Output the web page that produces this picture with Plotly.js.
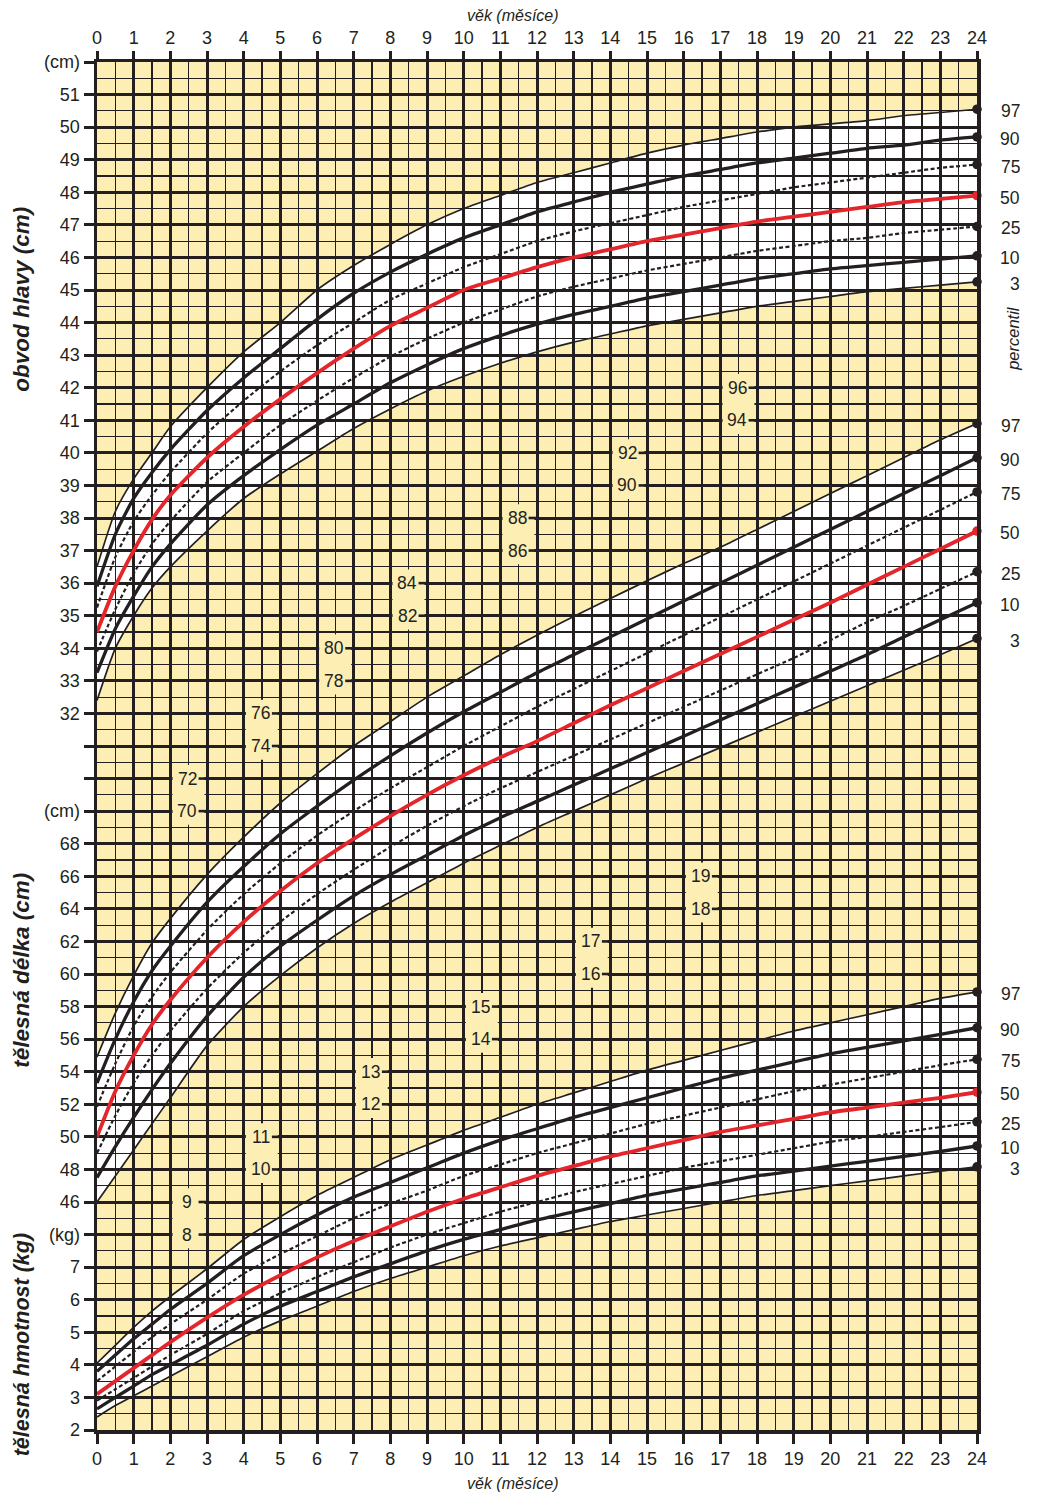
<!DOCTYPE html>
<html><head><meta charset="utf-8">
<script src="https://cdn.plot.ly/plotly-3.0.1.min.js"></script>
<style>html,body{margin:0;padding:0;background:#fff}</style>
</head><body><div id="chart" style="width:1045px;height:1497px"></div>
<script>
// ---------------- DATA ----------------
const months = [0,0.5,1,1.5,2,3,4,5,6,7,8,9,10,11,12,13,14,15,16,17,18,19,20,21,22,23,24];
const percentileNames = ['97','90','75','50','25','10','3'];

// head circumference (cm)
const headP97 = [36.5,38.2,39.2,40.0,40.8,42.0,43.1,44.0,45.0,45.75,46.4,47.0,47.5,47.9,48.3,48.6,48.9,49.2,49.45,49.65,49.85,50.0,50.1,50.2,50.35,50.45,50.55];
const headP90 = [35.9,37.5,38.6,39.4,40.1,41.3,42.3,43.2,44.1,44.9,45.55,46.1,46.6,47.0,47.4,47.7,48.0,48.25,48.5,48.7,48.9,49.05,49.2,49.35,49.45,49.6,49.7];
const headP75 = [35.25,36.8,37.9,38.7,39.4,40.6,41.6,42.5,43.3,44.0,44.7,45.2,45.7,46.1,46.5,46.8,47.05,47.3,47.55,47.75,47.95,48.15,48.3,48.45,48.6,48.75,48.85];
const headP50 = [34.5,35.9,37.0,37.95,38.7,39.85,40.8,41.65,42.45,43.2,43.9,44.45,45.0,45.35,45.7,46.0,46.25,46.5,46.7,46.9,47.1,47.25,47.4,47.55,47.7,47.8,47.9];
const headP25 = [33.9,35.2,36.3,37.2,37.9,39.1,40.0,40.85,41.6,42.3,42.95,43.5,44.0,44.4,44.8,45.1,45.35,45.6,45.8,46.0,46.2,46.35,46.5,46.6,46.75,46.85,46.95];
const headP10 = [33.25,34.6,35.6,36.5,37.2,38.4,39.3,40.1,40.85,41.5,42.15,42.7,43.2,43.6,43.95,44.25,44.5,44.75,44.95,45.15,45.35,45.5,45.65,45.75,45.85,45.95,46.05];
const headP3  = [32.4,34.0,35.0,35.85,36.5,37.6,38.6,39.35,40.05,40.75,41.35,41.9,42.35,42.75,43.1,43.4,43.65,43.9,44.1,44.3,44.5,44.65,44.8,44.95,45.05,45.15,45.25];

// body length (cm)
const lengthP97 = [54.9,57.6,59.9,61.9,63.4,66.1,68.4,70.5,72.3,74.0,75.5,77.0,78.3,79.6,80.8,81.95,83.05,84.15,85.2,86.2,87.3,88.4,89.5,90.6,91.7,92.8,93.8];
const lengthP90 = [53.3,56.0,58.3,60.2,61.7,64.4,66.6,68.6,70.3,71.9,73.4,74.8,76.1,77.3,78.5,79.6,80.7,81.8,82.9,84.0,85.1,86.2,87.3,88.4,89.5,90.6,91.7];
const lengthP75 = [51.85,54.5,56.8,58.6,60.1,62.7,64.9,66.8,68.5,70.0,71.4,72.7,74.0,75.2,76.4,77.5,78.6,79.7,80.8,81.9,83.0,84.1,85.2,86.3,87.4,88.5,89.6];
const lengthP50 = [50.0,52.8,55.0,56.9,58.4,61.0,63.2,65.1,66.8,68.3,69.7,71.0,72.2,73.3,74.3,75.4,76.5,77.55,78.6,79.65,80.7,81.75,82.8,83.9,85.0,86.1,87.2];
const lengthP25 = [49.0,51.3,53.3,55.0,56.5,59.1,61.3,63.2,64.9,66.4,67.8,69.1,70.3,71.4,72.4,73.4,74.4,75.4,76.4,77.4,78.4,79.4,80.5,81.6,82.6,83.65,84.7];
const lengthP10 = [47.5,49.4,51.2,52.9,54.5,57.4,59.8,61.7,63.3,64.8,66.1,67.3,68.5,69.6,70.6,71.6,72.6,73.6,74.6,75.6,76.6,77.6,78.6,79.6,80.7,81.75,82.8];
const lengthP3  = [46.0,47.6,49.2,50.8,52.4,55.6,58.0,59.9,61.6,63.1,64.4,65.6,66.8,67.9,69.0,70.0,71.0,72.0,72.95,73.9,74.85,75.8,76.75,77.7,78.65,79.6,80.6];

// body weight (kg)
const weightP97 = [4.05,4.6,5.15,5.65,6.1,6.95,7.85,8.55,9.2,9.75,10.3,10.75,11.2,11.6,12.0,12.35,12.7,13.05,13.35,13.65,13.95,14.25,14.5,14.75,15.0,15.25,15.45];
const weightP90 = [3.8,4.3,4.8,5.25,5.7,6.5,7.35,8.0,8.6,9.15,9.6,10.05,10.5,10.9,11.25,11.6,11.9,12.2,12.5,12.8,13.05,13.3,13.55,13.75,13.95,14.15,14.35];
const weightP75 = [3.5,3.95,4.4,4.85,5.25,6.0,6.8,7.4,7.95,8.5,8.95,9.35,9.8,10.15,10.5,10.8,11.1,11.4,11.65,11.9,12.15,12.4,12.6,12.8,13.0,13.2,13.38];
const weightP50 = [3.1,3.5,3.9,4.3,4.7,5.45,6.15,6.75,7.3,7.8,8.25,8.7,9.1,9.45,9.8,10.1,10.4,10.65,10.9,11.15,11.35,11.55,11.75,11.9,12.05,12.2,12.37];
const weightP25 = [2.9,3.25,3.6,3.95,4.3,4.95,5.65,6.2,6.7,7.15,7.6,8.0,8.35,8.7,9.0,9.3,9.55,9.8,10.05,10.25,10.45,10.65,10.85,11.0,11.15,11.3,11.46];
const weightP10 = [2.65,3.0,3.35,3.7,4.0,4.6,5.25,5.8,6.25,6.7,7.1,7.5,7.85,8.15,8.45,8.7,8.95,9.2,9.4,9.6,9.8,9.95,10.1,10.25,10.4,10.55,10.72];
const weightP3  = [2.4,2.75,3.05,3.35,3.65,4.25,4.85,5.35,5.8,6.25,6.65,7.0,7.35,7.65,7.9,8.15,8.4,8.6,8.8,9.0,9.2,9.35,9.5,9.65,9.8,9.95,10.08];

// tick labels
const monthLabels = ['0','1','2','3','4','5','6','7','8','9','10','11','12','13','14','15','16','17','18','19','20','21','22','23','24'];
const headTickLabels = ['51','50','49','48','47','46','45','44','43','42','41','40','39','38','37','36','35','34','33','32'];
const lengthTickLabels = ['68','66','64','62','60','58','56','54','52','50','48','46'];
const weightTickLabels = ['7','6','5','4','3','2'];
const lengthInnerLabels = ['96','94','92','90','88','86','84','82','80','78','76','74','72','70'];
const weightInnerLabels = ['19','18','17','16','15','14','13','12','11','10','9','8'];

// ---------------- CHART ----------------
const DARK = '#231f20', YELLOW = '#fdeeb4', RED = '#e3262b';
const FONT = 'Liberation Sans, Arial, Helvetica, sans-serif';

// conversion of each measure to the common chart row scale
const headRow = v => v - 8;
const lengthRow = v => v / 2 - 14;
const weightRow = v => v;

const groups = [
  {conv: headRow,   s: [headP97, headP90, headP75, headP50, headP25, headP10, headP3]},
  {conv: lengthRow, s: [lengthP97, lengthP90, lengthP75, lengthP50, lengthP25, lengthP10, lengthP3]},
  {conv: weightRow, s: [weightP97, weightP90, weightP75, weightP50, weightP25, weightP10, weightP3]}
];

const styleFor = name => {
  if (name === '50') return {color: RED, width: 3.8};
  if (name === '97' || name === '3') return {color: DARK, width: 1.7};
  if (name === '90' || name === '10') return {color: DARK, width: 3.3};
  return {color: DARK, width: 2.2, dash: '4px,2.5px'};
};

const traces = [];
const shapes = [];
const annotations = [];
const drawOrder = ['97','3','90','10','75','25','50'];

groups.forEach(g => {
  const conv = s => s.map(g.conv);
  const top = conv(g.s[0]), bot = conv(g.s[6]);
  let path = 'M ' + months[0] + ',' + top[0];
  for (let i = 1; i < months.length; i++) path += ' L ' + months[i] + ',' + top[i];
  for (let i = months.length - 1; i >= 0; i--) path += ' L ' + months[i] + ',' + bot[i];
  path += ' Z';
  shapes.push({type: 'path', path: path, xref: 'x', yref: 'y', fillcolor: '#ffffff', line: {width: 0}, layer: 'below'});

  drawOrder.forEach(name => {
    const idx = percentileNames.indexOf(name);
    traces.push({type: 'scatter', mode: 'lines', x: months, y: conv(g.s[idx]),
      line: Object.assign({shape: 'spline', smoothing: 0.6}, styleFor(name)), hoverinfo: 'skip'});
  });
  const endY = g.s.map(s => g.conv(s[s.length - 1]));
  traces.push({type: 'scatter', mode: 'markers', cliponaxis: false,
    x: endY.map(() => months[months.length - 1]), y: endY,
    marker: {size: 9.5, color: percentileNames.map(n => n === '50' ? RED : DARK)}, hoverinfo: 'skip'});
  percentileNames.forEach((n, i) => {
    annotations.push({xref: 'x', yref: 'y', x: months[months.length - 1], y: endY[i], text: n,
      showarrow: false, xanchor: 'right', xshift: 45, yshift: -2, font: {size: 17.5, color: DARK}});
  });
});

traces.push({type: 'scatter', mode: 'markers', x: [0, 24], y: [2, 2], xaxis: 'x2', yaxis: 'y', marker: {opacity: 0}, hoverinfo: 'skip'});

const tickvals = [44], ticktext = ['(cm)'];
headTickLabels.forEach(t => { tickvals.push(headRow(+t)); ticktext.push(t); });
tickvals.push(23, 22); ticktext.push('', '');
tickvals.push(21); ticktext.push('(cm)');
lengthTickLabels.forEach(t => { tickvals.push(lengthRow(+t)); ticktext.push(t); });
tickvals.push(8); ticktext.push('(kg)');
weightTickLabels.forEach(t => { tickvals.push(weightRow(+t)); ticktext.push(t); });

function innerPairs(labels, cols, conv) {
  cols.forEach((m0, i) => {
    const hi = labels[2 * i], lo = labels[2 * i + 1];
    const uHi = conv(+hi), uLo = conv(+lo);
    shapes.push({type: 'rect', xref: 'x', yref: 'y', x0: m0 + 0.06, x1: m0 + 0.93, y0: uLo - 0.42, y1: uHi + 0.42,
      fillcolor: YELLOW, line: {width: 0}, layer: 'above'});
    [[hi, uHi], [lo, uLo]].forEach(([t, u]) => {
      shapes.push({type: 'line', xref: 'x', yref: 'y', x0: m0 + 0.77, x1: m0 + 0.97, y0: u, y1: u,
        line: {color: DARK, width: 2.6}, layer: 'above'});
      annotations.push({xref: 'x', yref: 'y', x: m0 + 0.46, y: u, text: t, showarrow: false,
        xanchor: 'center', yanchor: 'middle', font: {size: 17.5, color: DARK}});
    });
  });
}
innerPairs(lengthInnerLabels, [17, 14, 11, 8, 6, 4, 2], lengthRow);
innerPairs(weightInnerLabels, [16, 13, 10, 7, 4, 2], weightRow);

const PW = 880, PH = 1368;
annotations.push({xref: 'paper', yref: 'paper', x: 0.4727, y: 1 + 46 / PH, text: '<i>věk (měsíce)</i>', showarrow: false, font: {size: 16}, yanchor: 'middle'});
annotations.push({xref: 'paper', yref: 'paper', x: 0.4727, y: -53 / PH, text: '<i>věk (měsíce)</i>', showarrow: false, font: {size: 16}, yanchor: 'middle'});
annotations.push({xref: 'paper', yref: 'y', x: -75 / PW, y: 36.7, text: '<b><i>obvod hlavy (cm)</i></b>', textangle: -90, showarrow: false, font: {size: 22.5}, xanchor: 'center'});
annotations.push({xref: 'paper', yref: 'y', x: -75 / PW, y: 16.1, text: '<b><i>tělesná délka (cm)</i></b>', textangle: -90, showarrow: false, font: {size: 22.5}, xanchor: 'center'});
annotations.push({xref: 'paper', yref: 'y', x: -75 / PW, y: 4.6, text: '<b><i>tělesná hmotnost (kg)</i></b>', textangle: -90, showarrow: false, font: {size: 21.5}, xanchor: 'center'});
annotations.push({xref: 'paper', yref: 'y', x: (1013 - 97) / PW, y: 35.5, text: '<i>percentil</i>', textangle: -90, showarrow: false, font: {size: 16.5}, xanchor: 'center'});

const xCommon = {
  range: [0, 24], tickmode: 'array', tickvals: monthLabels.map(Number), ticktext: monthLabels,
  ticks: 'outside', ticklen: 10, tickwidth: 3, tickcolor: DARK, tickfont: {size: 18, color: DARK},
  zeroline: false, automargin: false, fixedrange: true
};

const layout = {
  width: 1045, height: 1497,
  margin: {l: 97, r: 68, t: 62, b: 67, pad: 0},
  paper_bgcolor: '#ffffff', plot_bgcolor: YELLOW,
  font: {family: FONT, size: 15, color: DARK},
  showlegend: false,
  xaxis: Object.assign({}, xCommon, {
    showgrid: true, gridcolor: DARK, gridwidth: 3,
    showline: true, linecolor: DARK, linewidth: 3.5, mirror: true,
    minor: {tickmode: 'linear', tick0: 0, dtick: 0.5, showgrid: true, gridcolor: DARK, gridwidth: 1.2, ticks: ''}
  }),
  xaxis2: Object.assign({}, xCommon, {overlaying: 'x', side: 'top', matches: 'x', showgrid: false, showline: false}),
  yaxis: {
    range: [2, 44], tickmode: 'array', tickvals: tickvals, ticktext: ticktext,
    ticks: 'outside', ticklen: 10, tickwidth: 3, tickcolor: DARK, tickfont: {size: 18, color: DARK},
    showgrid: true, gridcolor: DARK, gridwidth: 3,
    showline: true, linecolor: DARK, linewidth: 3.5, mirror: true,
    minor: {tickmode: 'linear', tick0: 2, dtick: 0.5, showgrid: true, gridcolor: DARK, gridwidth: 1.2, ticks: ''},
    zeroline: false, automargin: false, fixedrange: true
  },
  shapes: shapes,
  annotations: annotations
};

Plotly.newPlot('chart', traces, layout, {displayModeBar: false, staticPlot: true});
</script>
</body></html>
